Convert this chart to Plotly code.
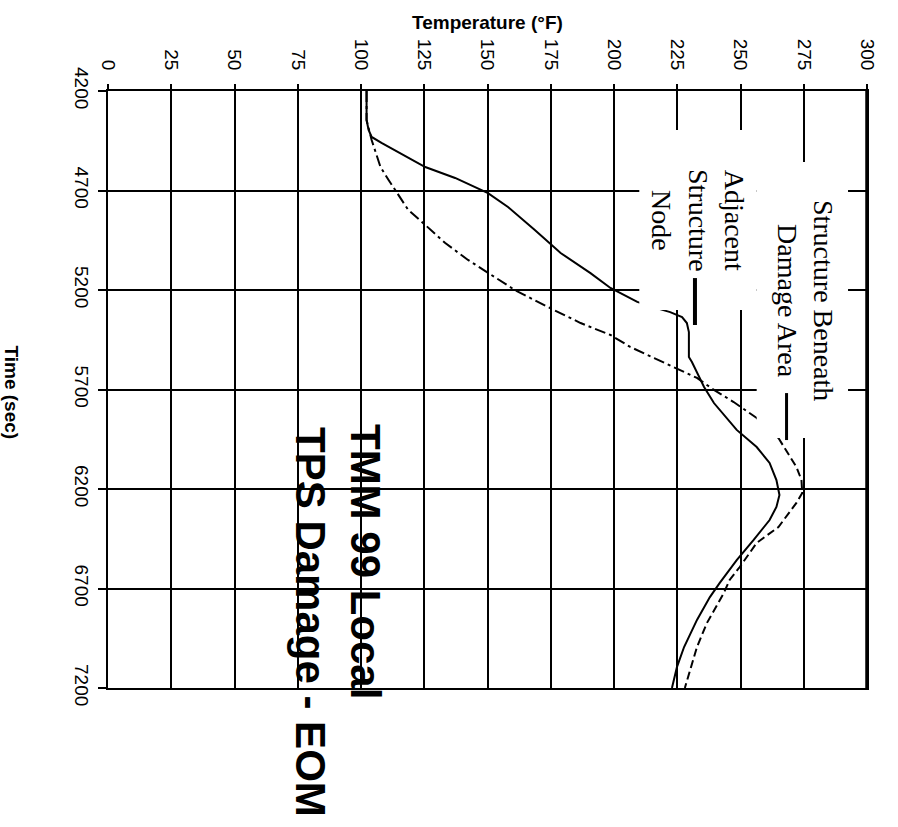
import plotly.graph_objects as go

# ---- axis ticks ----
temp_ticks = [0, 25, 50, 75, 100, 125, 150, 175, 200, 225, 250, 275, 300]
time_ticks = [4200, 4700, 5200, 5700, 6200, 6700, 7200]

# ---- Adjacent Structure Node (solid) ----
adj_time = [4200, 4346, 4396, 4431, 4461, 4507, 4582, 4637, 4713, 4783, 4898, 5014,
            5115, 5190, 5260, 5295, 5311, 5336, 5366, 5411, 5537, 5562, 5617, 5687,
            5768, 5903, 5989, 6069, 6155, 6230, 6290, 6356, 6456, 6557, 6672, 6743,
            6858, 6994, 7094, 7200]
adj_temp = [102.2, 102.2, 103.0, 104.2, 108.1, 114.8, 125.4, 137.2, 150.2, 158.1, 168.7, 178.9,
            190.7, 198.6, 209.2, 217.8, 222.2, 226.9, 228.8, 229.6, 229.6, 230.8, 232.8, 235.6,
            239.5, 248.5, 256.4, 261.5, 264.2, 265.4, 264.2, 261.5, 255.2, 248.5, 241.8, 237.9,
            232.8, 227.7, 224.9, 222.9]

# ---- Structure Beneath Damage Area, upper part (dash-dot) ----
ben_up_time = [4200, 4346, 4446, 4582, 4647, 4738, 4798, 4873, 4964, 5049, 5115, 5200,
               5285, 5366, 5426, 5486, 5542, 5592, 5642, 5702, 5763, 5843, 5944]
ben_up_temp = [102.2, 102.2, 104.2, 107.7, 110.9, 115.6, 118.7, 125.4, 133.3, 142.3, 150.2, 160.8,
               173.8, 186.8, 198.6, 206.4, 215.9, 224.1, 232.8, 239.5, 247.3, 256.4, 265.0]

# ---- Structure Beneath Damage Area, lower part (dashed) ----
ben_lo_time = [5944, 6089, 6155, 6220, 6270, 6391, 6471, 6592, 6657, 6723, 6874, 6994, 7200]
ben_lo_temp = [265.0, 272.1, 274.1, 274.4, 272.1, 265.0, 256.4, 249.7, 245.7, 243.4, 236.7, 232.8, 228.0]

SANS = "Liberation Sans, Arial, sans-serif"
SERIF = "Liberation Serif, Times New Roman, serif"

fig = go.Figure()
fig.add_trace(go.Scatter(x=adj_temp, y=adj_time, mode="lines",
                         line=dict(color="black", width=2), name="Adjacent Structure Node"))
fig.add_trace(go.Scatter(x=ben_up_temp, y=ben_up_time, mode="lines",
                         line=dict(color="black", width=2, dash="11px,4px,3px,4px"),
                         name="Structure Beneath Damage Area"))
fig.add_trace(go.Scatter(x=ben_lo_temp, y=ben_lo_time, mode="lines",
                         line=dict(color="black", width=2, dash="8px,4px"),
                         name="Structure Beneath Damage Area (cont.)"))

# thicker right border
fig.add_shape(type="line", x0=300, x1=300, y0=4200, y1=7200, xref="x", yref="y",
              line=dict(color="black", width=3.5), layer="above")
# white label boxes masking grid and curves
fig.add_shape(type="rect", x0=210.0, x1=256.4, y0=4396, y1=5300, xref="x", yref="y",
              fillcolor="white", line=dict(width=0), layer="above")
fig.add_shape(type="rect", x0=256.4, x1=292.5, y0=4557, y1=5944, xref="x", yref="y",
              fillcolor="white", line=dict(width=0), layer="above")
# leader lines
fig.add_shape(type="line", x0=232.0, x1=232.0, y0=5140, y1=5376, xref="x", yref="y",
              line=dict(color="black", width=4), layer="above")
fig.add_shape(type="line", x0=268.2, x1=268.2, y0=5718, y1=5954, xref="x", yref="y",
              line=dict(color="black", width=3), layer="above")

# labels
fig.add_annotation(x=233.2, y=4848, xref="x", yref="y", text="Adjacent<br>Structure<br>Node",
                   textangle=90, showarrow=False, align="center",
                   font=dict(family=SERIF, size=28, color="black"))
fig.add_annotation(x=275.5, y=5250, xref="x", yref="y", text="Structure Beneath<br>Damage Area",
                   textangle=90, showarrow=False, align="center",
                   font=dict(family=SERIF, size=28, color="black"))
fig.add_annotation(x=102.0, y=6562, xref="x", yref="y", text="TMM 99 Local",
                   textangle=90, showarrow=False,
                   font=dict(family=SANS, size=42, color="black", weight="bold"))
fig.add_annotation(x=79.8, y=6868, xref="x", yref="y", text="TPS Damage - EOM",
                   textangle=90, showarrow=False,
                   font=dict(family=SANS, size=42, color="black", weight="bold"))

# axis titles
fig.add_annotation(x=0.5, y=1, xref="paper", yref="paper", yshift=69, text="Temperature (°F)",
                   showarrow=False, yanchor="middle",
                   font=dict(family=SANS, size=19, color="black", weight="bold"))
fig.add_annotation(x=0, y=0.5, xref="paper", yref="paper", xshift=-97, yshift=-3,
                   text="Time (sec)", textangle=90, showarrow=False, xanchor="center",
                   font=dict(family=SANS, size=19, color="black", weight="bold"))

fig.update_xaxes(range=[0, 300], side="top", tickvals=temp_ticks,
                 ticktext=[str(v) for v in temp_ticks], tickangle=90,
                 showgrid=True, gridcolor="black", gridwidth=1.5,
                 showline=True, linecolor="black", linewidth=2, mirror=True,
                 ticks="outside", ticklen=5, tickwidth=1.5, tickcolor="black",
                 ticklabelstandoff=7, zeroline=False,
                 tickfont=dict(family=SANS, size=19, color="black"))
fig.update_yaxes(range=[7200, 4200], tickvals=time_ticks,
                 ticktext=[str(v) for v in time_ticks], tickangle=90,
                 showgrid=True, gridcolor="black", gridwidth=2,
                 showline=True, linecolor="black", linewidth=2, mirror=True,
                 ticks="outside", ticklen=8, tickwidth=2, tickcolor="black",
                 ticklabelstandoff=0, zeroline=False,
                 tickfont=dict(family=SANS, size=19, color="black"))

fig.update_layout(width=890, height=819, margin=dict(l=108, r=19, t=91, b=131),
                  paper_bgcolor="white", plot_bgcolor="white", showlegend=False)

fig.write_html("out.html", config={"displayModeBar": False},
               post_script="document.body.style.margin='0px';")
